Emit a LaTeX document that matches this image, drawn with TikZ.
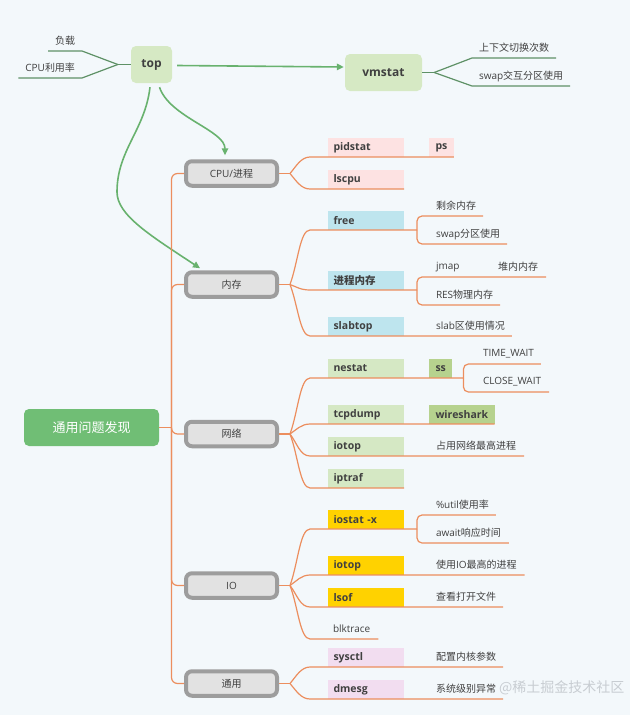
\documentclass[tikz,border=0pt]{standalone}
\usepackage{fontspec}
\setmainfont{Open Sans}
\newfontfamily\cjk{Noto Sans CJK SC}
\usetikzlibrary{arrows.meta,calc}
\definecolor{bg}{RGB}{243,248,251}
\definecolor{txt}{RGB}{64,64,64}
\definecolor{orl}{RGB}{236,142,94}
\definecolor{gline}{RGB}{104,178,110}
\definecolor{dgline}{RGB}{94,145,102}
\definecolor{topfill}{RGB}{214,233,196}
\definecolor{rootfill}{RGB}{112,190,117}
\definecolor{catfill}{RGB}{226,226,226}
\definecolor{catdraw}{RGB}{157,157,157}
\definecolor{pinkf}{RGB}{253,226,226}
\definecolor{bluef}{RGB}{190,229,238}
\definecolor{lgreenf}{RGB}{213,232,196}
\definecolor{dgreenf}{RGB}{182,210,142}
\definecolor{goldf}{RGB}{255,210,0}
\definecolor{lavf}{RGB}{242,221,240}
\definecolor{wm}{RGB}{200,205,210}
\begin{document}
\begin{tikzpicture}[x=1pt,y=-1pt,
  every node/.style={text=txt, font=\fontsize{10}{12}\selectfont},
  mainbox/.style={rounded corners=5pt, fill=topfill, inner sep=0pt, font=\bfseries\fontsize{12}{14}\selectfont},
  rootbox/.style={rounded corners=5pt, fill=rootfill, inner sep=0pt, minimum width=135pt, minimum height=37pt, text=white, font=\cjk\fontsize{13}{15}\selectfont},
  catbox/.style={rounded corners=6pt, fill=catfill, draw=catdraw, line width=4pt, minimum width=91pt, minimum height=24.5pt, inner sep=0pt},
  toolbox/.style={anchor=south west, minimum width=76.5pt, minimum height=19pt, text width=64.5pt, align=left, inner xsep=6pt, inner ysep=0pt, outer sep=0pt, font=\bfseries\fontsize{10.5}{12}\selectfont},
  minibox/.style={anchor=south west, minimum height=19pt, inner xsep=6.5pt, inner ysep=0pt, outer sep=0pt, font=\bfseries\fontsize{10.5}{12}\selectfont},
  leaf/.style={anchor=south west, minimum height=20pt, inner xsep=0pt, inner ysep=0pt, outer sep=0pt},
  leaftwo/.style={anchor=south west, minimum height=20pt, inner xsep=7pt, inner ysep=0pt, outer sep=0pt},
  obr/.style={draw=orl, line width=1.2pt},
  gbr/.style={draw=dgline, line width=1.2pt},
  garrow/.style={draw=gline, line width=1.6pt, -{Triangle[length=7pt,width=6.5pt]}},
]
\useasboundingbox (0,0) rectangle (630,715);
\fill[bg] (0,0) rectangle (630,715);

% ---------- main nodes
\node[mainbox, minimum width=41pt, minimum height=37pt] (top) at (151.5,64.5) {top};
\node[mainbox, minimum width=77pt, minimum height=37pt] (vmstat) at (383.5,72.5) {vmstat};
\node[rootbox] (root) at (91.5,427.5) {通用问题发现};

% ---------- categories
\node[catbox] (cpu) at (231.5,173.5) {CPU/{\cjk 进程}};
\node[catbox] (mem) at (231.5,284.5) {\cjk 内存};
\node[catbox] (net) at (231.5,434) {\cjk 网络};
\node[catbox] (io) at (231.5,585.5) {IO};
\node[catbox] (gen) at (231.5,683.5) {\cjk 通用};

% ---------- tool boxes
\node[toolbox, fill=pinkf] (pidstat) at (327.5,157) {pidstat};
\node[minibox, fill=pinkf] (ps) at (429,157) {ps};
\node[toolbox, fill=pinkf] (lscpu) at (327.5,189) {lscpu};
\node[toolbox, fill=bluef] (free) at (327.5,230) {free};
\node[toolbox, fill=bluef] (pmem) at (327.5,290) {\cjk\bfseries 进程内存};
\node[toolbox, fill=bluef] (slabtop) at (327.5,336) {slabtop};
\node[toolbox, fill=lgreenf] (nestat) at (327.5,378) {nestat};
\node[minibox, fill=dgreenf] (ss) at (429,378) {ss};
\node[toolbox, fill=lgreenf] (tcpdump) at (327.5,424) {tcpdump};
\node[minibox, fill=dgreenf] (wireshark) at (429,424) {wireshark};
\node[toolbox, fill=lgreenf] (niotop) at (327.5,456) {iotop};
\node[toolbox, fill=lgreenf] (iptraf) at (327.5,488) {iptraf};
\node[toolbox, fill=goldf] (iostat) at (327.5,529) {iostat -x};
\node[toolbox, fill=goldf] (iotop) at (327.5,575) {iotop};
\node[toolbox, fill=goldf] (lsof) at (327.5,607) {lsof};
\node[toolbox, fill=lavf] (sysctl) at (327.5,667) {sysctl};
\node[toolbox, fill=lavf] (dmesg) at (327.5,699) {dmesg};

% ---------- leaves
\node[leaf] (rem) at (436,216) {\cjk 剩余内存};
\node[leaf] (swp) at (436,244) {swap{\cjk 分区使用}};
\node[leaf] (jmap) at (436,277) {jmap};
\node[leaf] (heap) at (498,277) {\cjk 堆内内存};
\node[leaf] (res) at (436,305) {RES{\cjk 物理内存}};
\node[leaf] (slab) at (436,336) {slab{\cjk 区使用情况}};
\node[leaf] (tw) at (483,364) {TIME\_WAIT};
\node[leaf] (cw) at (483,392) {CLOSE\_WAIT};
\node[leaf] (netproc) at (436,456) {\cjk 占用网络最高进程};
\node[leaf] (util) at (436,515) {\%util{\cjk 使用率}};
\node[leaf] (await) at (436,543) {await{\cjk 响应时间}};
\node[leaf] (ioproc) at (436,575) {{\cjk 使用}IO{\cjk 最高的进程}};
\node[leaf] (openf) at (436,607) {\cjk 查看打开文件};
\node[leaf] (blk) at (333,639) {blktrace};
\node[leaf] (kparam) at (436,667) {\cjk 配置内核参数};
\node[leaf] (kerr) at (436,699) {\cjk 系统级别异常};

\node[leaftwo, anchor=south east] (load) at (82,51) {\cjk 负载};
\node[leaftwo, anchor=south east] (cpuuse) at (82,78) {CPU{\cjk 利用率}};
\node[leaftwo] (ctx) at (472,58) {\cjk 上下文切换次数};
\node[leaftwo] (vswap) at (472,86) {swap{\cjk 交互分区使用}};

% ---------- top / vmstat side branches
\coordinate (topJ) at ([xshift=-13pt]top.west);
\draw[gbr] (top.west) -- (topJ);
\draw[gbr] (topJ) -- (load.south east) -- (load.south west);
\draw[gbr] (topJ) -- (cpuuse.south east) -- (cpuuse.south west);
\coordinate (vJ) at ([xshift=12pt]vmstat.east);
\draw[gbr] (vmstat.east) -- (vJ);
\draw[gbr] (vJ) -- (ctx.south west) -- (ctx.south east);
\draw[gbr] (vJ) -- (vswap.south west) -- (vswap.south east);

% ---------- green arrows
\draw[garrow] ([xshift=5pt,yshift=-1pt]top.east) -- ([xshift=-1pt,yshift=5.5pt]vmstat.west);
\draw[garrow] ([xshift=8pt,yshift=-4pt]top.south) .. controls +(10,30) and +(0,-25) .. ([xshift=-6.5pt,yshift=4pt]cpu.north);
\draw[garrow] ([xshift=-1.5pt,yshift=-4pt]top.south) .. controls +(-5,43) and +(0,-42) .. (117,192)
   .. controls +(0,23) and +(-50,-33) .. ([xshift=-31.5pt,yshift=2pt]mem.north);

% ---------- trunk
\coordinate (rootJ) at (171.5,427.5);
\draw[obr] (root.east) -- (rootJ);
\foreach \c in {cpu,mem,net,io,gen} \draw[obr, rounded corners=6pt] (rootJ) |- (\c.west);

\coordinate (cpuJ) at ([xshift=11pt]cpu.east);
\coordinate (memJ) at ([xshift=11pt]mem.east);
\coordinate (netJ) at ([xshift=11pt]net.east);
\coordinate (ioJ) at ([xshift=11pt]io.east);
\coordinate (genJ) at ([xshift=11pt]gen.east);
\foreach \c in {cpu,mem,net,io,gen} \draw[obr] (\c.east) -- (\c J);

% CPU
\draw[obr] (cpuJ) .. controls +(6,-7) and +(-9,0) .. ([xshift=-17.5pt]pidstat.south west) -- (ps.south east);
\draw[obr] (cpuJ) .. controls +(6,7) and +(-9,0) .. ([xshift=-17.5pt]lscpu.south west) -- (lscpu.south east);

% memory
\coordinate (freeS) at ([xshift=13pt]free.south east);
\coordinate (pmS) at ([xshift=13pt]pmem.south east);
\draw[obr] (memJ) .. controls +(8,-22) and +(-10,0) .. ([xshift=-17.5pt]free.south west) -- (freeS);
\draw[obr] (memJ) .. controls +(6,2) and +(-10,0) .. ([xshift=-17.5pt]pmem.south west) -- (pmS);
\draw[obr] (memJ) .. controls +(8,21) and +(-10,0) .. ([xshift=-17.5pt]slabtop.south west) -- ([xshift=7pt]slab.south east);
\draw[obr, rounded corners=5pt] (freeS) |- ([xshift=7pt]rem.south east);
\draw[obr, rounded corners=5pt] (freeS) |- ([xshift=7pt]swp.south east);
\draw[obr, rounded corners=5pt] (pmS) |- ([xshift=8pt]heap.south east);
\draw[obr, rounded corners=5pt] (pmS) |- ([xshift=7pt]res.south east);

% network
\coordinate (nsS) at ([xshift=11pt]ss.south east);
\draw[obr] (netJ) .. controls +(8,-22) and +(-10,0) .. ([xshift=-17.5pt]nestat.south west) -- (nsS);
\draw[obr] (netJ) .. controls +(6,-4) and +(-9,0) .. ([xshift=-17.5pt]tcpdump.south west) -- (wireshark.south east);
\draw[obr] (netJ) .. controls +(7,9) and +(-10,0) .. ([xshift=-17.5pt]niotop.south west) -- ([xshift=8pt]netproc.south east);
\draw[obr] (netJ) .. controls +(8,21) and +(-10,0) .. ([xshift=-17.5pt]iptraf.south west) -- (iptraf.south east);
\draw[obr, rounded corners=5pt] (nsS) |- ([xshift=7pt]tw.south east);
\draw[obr, rounded corners=5pt] (nsS) |- ([xshift=8pt]cw.south east);

% IO
\coordinate (ioS) at ([xshift=13pt]iostat.south east);
\draw[obr] (ioJ) .. controls +(8,-22) and +(-10,0) .. ([xshift=-17.5pt]iostat.south west) -- (ioS);
\draw[obr] (ioJ) .. controls +(6,-4) and +(-9,0) .. ([xshift=-17.5pt]iotop.south west) -- ([xshift=8pt]ioproc.south east);
\draw[obr] (ioJ) .. controls +(7,9) and +(-10,0) .. ([xshift=-17.5pt]lsof.south west) -- ([xshift=7pt]openf.south east);
\draw[obr] (ioJ) .. controls +(8,21) and +(-10,0) .. ([xshift=-23pt]blk.south west) -- ([xshift=8pt]blk.south east);
\draw[obr, rounded corners=5pt] (ioS) |- ([xshift=7pt]util.south east);
\draw[obr, rounded corners=5pt] (ioS) |- ([xshift=8pt]await.south east);

% general
\draw[obr] (genJ) .. controls +(6,-7) and +(-9,0) .. ([xshift=-17.5pt]sysctl.south west) -- ([xshift=7pt]kparam.south east);
\draw[obr] (genJ) .. controls +(6,7) and +(-9,0) .. ([xshift=-17.5pt]dmesg.south west) -- ([xshift=7pt]kerr.south east);

% watermark
\node[anchor=west, inner sep=0pt, text=wm, font=\cjk\fontsize{14}{16}\selectfont] (wmk) at (499,688) {@稀土掘金技术社区};
\end{tikzpicture}
\end{document}
